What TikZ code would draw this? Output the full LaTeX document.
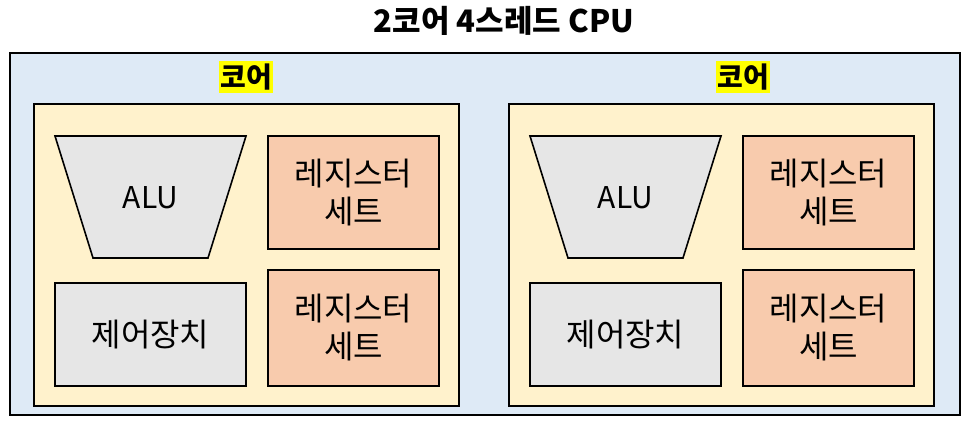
\documentclass[tikz,border=0pt]{standalone}
\usepackage{fontspec}
\setmainfont{Noto Sans CJK KR}
\definecolor{fondcpu}{RGB}{222, 234, 246}
\definecolor{fondcoeur}{RGB}{255, 242, 204}
\definecolor{gris}{RGB}{230, 230, 230}
\definecolor{saumon}{RGB}{248, 203, 173}
\definecolor{jaune}{RGB}{255, 255, 0}

\begin{document}
\begin{tikzpicture}[x=1pt, y=-1pt, line width=1.6pt,
  bloc/.style={draw, inner sep=0pt, align=center, font=\fontsize{32}{38}\selectfont},
  registre/.style={bloc, fill=saumon, minimum width=171pt},
  etiquette/.style={fill=jaune, inner xsep=1pt, inner ysep=3pt, font=\bfseries\fontsize{28}{32}\selectfont}]
  \useasboundingbox (0, 0) rectangle (965, 422);
  \node[font=\bfseries\fontsize{31}{36}\selectfont] (titre) at (504, 21) {2코어 4스레드 CPU};
  \draw[fill=fondcpu] (10, 53) rectangle (960, 415);
  \foreach \i/\x/\lx in {1/0/246, 2/475/743} {
    \node[etiquette] (coeur\i) at (\lx, 77) {코어};
    \draw[fill=fondcoeur] ({\x+34}, 104) rectangle ({\x+459}, 406);
    \draw[fill=gris] ({\x+55}, 136) -- ({\x+246}, 136) -- ({\x+208}, 258) -- ({\x+93}, 258) -- cycle;
    \node[font=\fontsize{30}{36}\selectfont] (alu\i) at ({\x+150.5}, 198) {ALU};
    \node[registre, minimum height=113pt] (regA\i) at ({\x+353.5}, 192.5) {레지스터\\세트};
    \node[registre, minimum height=116pt] (regB\i) at ({\x+353.5}, 328) {레지스터\\세트};
    \node[bloc, fill=gris, minimum width=191pt, minimum height=103pt] (ctrl\i) at ({\x+150.5}, 334.5) {제어장치};
  }
\end{tikzpicture}
\end{document}
